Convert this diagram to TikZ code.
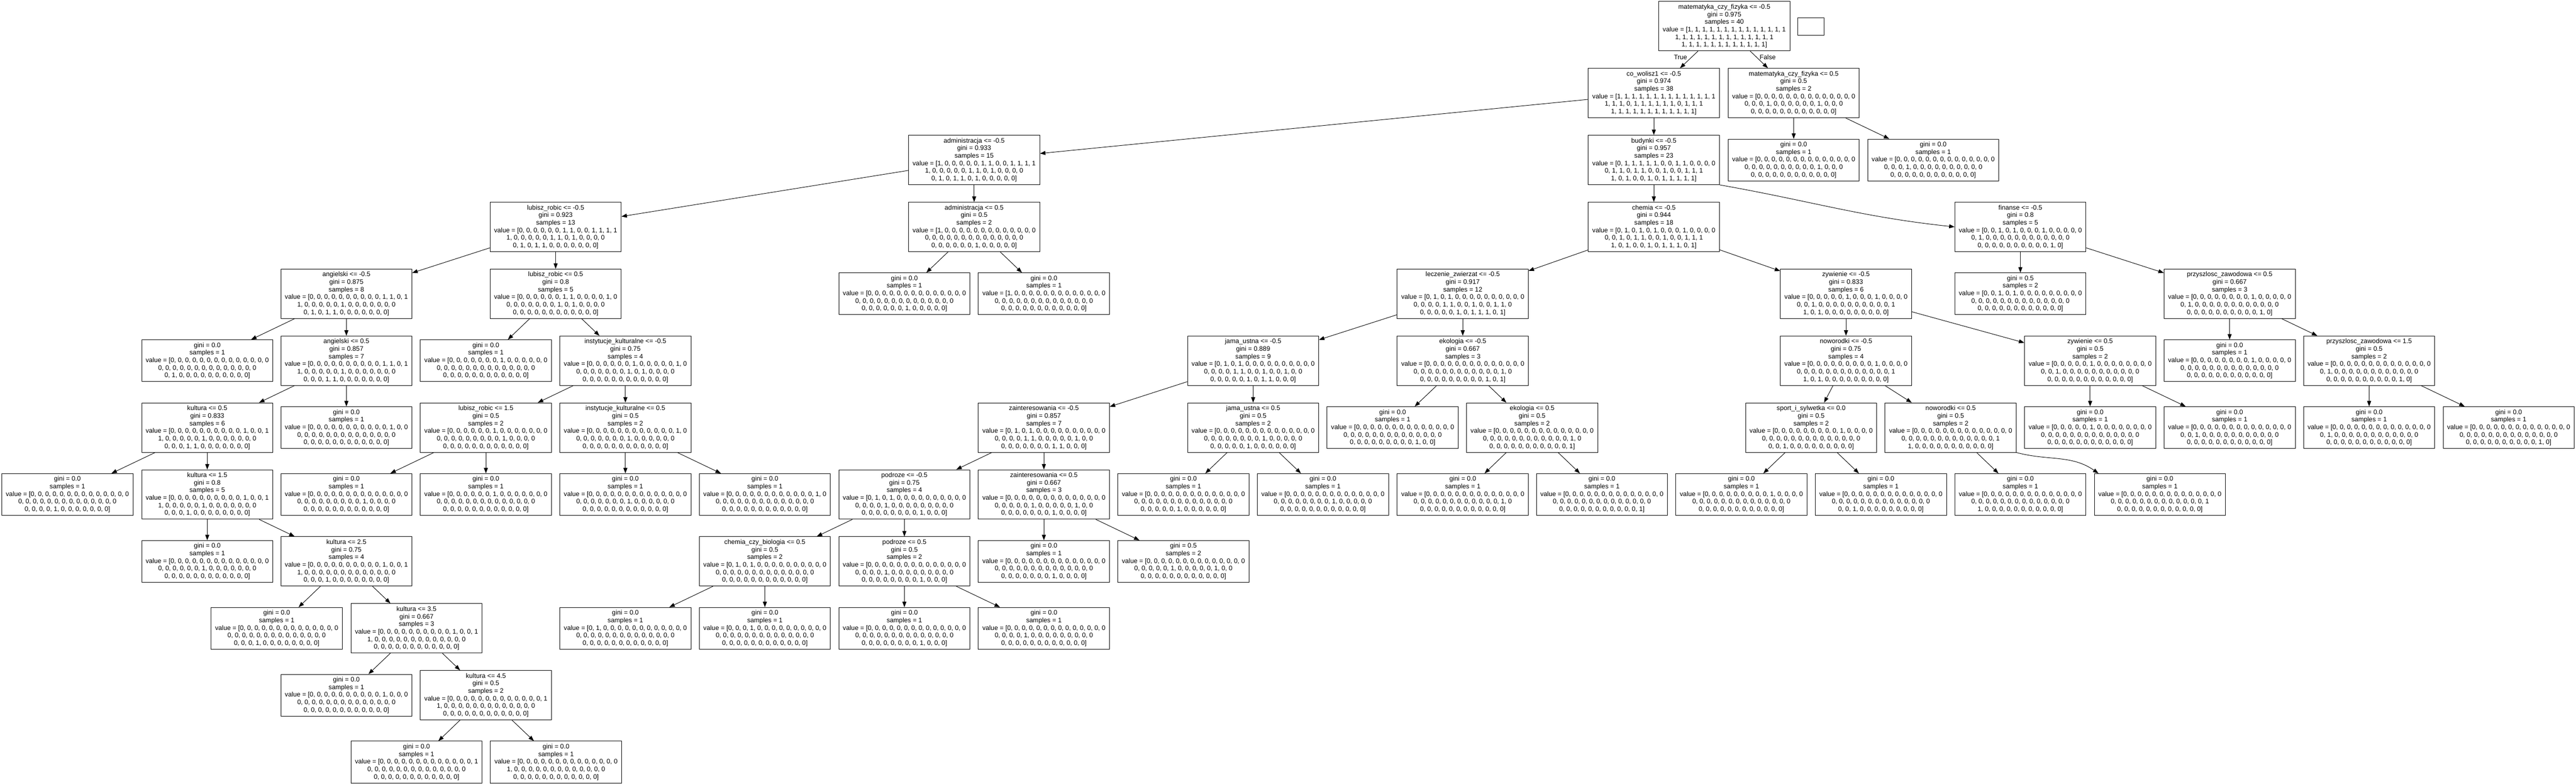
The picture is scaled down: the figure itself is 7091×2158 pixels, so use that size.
\documentclass[tikz,border=0pt]{standalone}
\usepackage{fontspec}
\setmainfont{Liberation Sans}
\usetikzlibrary{arrows.meta}
\newcount\vvcnt
\def\setvals#1{%
  \vvcnt=0
  \loop\expandafter\gdef\csname vv\the\vvcnt\endcsname{0}\advance\vvcnt by 1\relax\ifnum\vvcnt<40 \repeat
  \foreach \k in {#1}{\expandafter\gdef\csname vv\k\endcsname{1}}%
}
\def\vseg#1#2{\vvcnt=#1\relax\loop\csname vv\the\vvcnt\endcsname\advance\vvcnt by 1\relax\ifnum\vvcnt<#2\relax, \repeat}
\def\vals#1{\setvals{#1}value = [\vseg{0}{14}\\\vseg{14}{28}\\\vseg{28}{40}]}
\newcommand{\tleaf}[1]{gini = 0.0\\samples = 1\\\vals{#1}}
\newcommand{\tsplit}[4]{#1\\gini = #2\\samples = #3\\\vals{#4}}
\tikzset{
  tbox/.style={draw, line width=1.3pt, align=center, minimum width=361pt, inner sep=0pt,
    font=\fontsize{18pt}{20.8pt}\selectfont},
  inode/.style={tbox, minimum height=136pt},
  lnode/.style={tbox, minimum height=115pt},
  arr/.style={-{Triangle[length=15pt,width=11pt]}, line width=1.3pt},
  lbl/.style={font=\fontsize{18pt}{20.8pt}\selectfont, inner sep=0pt}
}
\begin{document}
\begin{tikzpicture}[x=1pt,y=-1pt]
\fill[white] (0,0) rectangle (7091,2158);
\useasboundingbox (0,0) rectangle (7091,2158);
% row 0
\node[inode] (root) at (4746.5,72) {\tsplit{matematyka\_czy\_fizyka <= -0.5}{0.975}{40}{0,...,39}};
\node[draw, line width=1.3pt, minimum width=72pt, minimum height=48pt, inner sep=0pt] (blank) at (4985,73) {};
% row 1
\node[inode] (co) at (4552.5,256.2) {\tsplit{co\_wolisz1 <= -0.5}{0.974}{38}{0,1,2,3,4,5,6,7,8,9,10,11,12,13,14,15,16,18,19,20,21,22,23,25,26,27,28,29,30,31,32,33,34,35,36,37,38,39}};
\node[inode] (mat05) at (4937.5,256.2) {\tsplit{matematyka\_czy\_fizyka <= 0.5}{0.5}{2}{17,24}};
% row 2
\node[inode] (admin) at (2681.5,440.4) {\tsplit{administracja <= -0.5}{0.933}{15}{0,6,7,10,11,12,13,14,20,21,23,29,31,32,34}};
\node[inode] (budynki) at (4552.5,440.4) {\tsplit{budynki <= -0.5}{0.957}{23}{1,2,3,4,5,8,9,15,16,18,19,22,25,26,27,28,30,33,35,36,37,38,39}};
\node[lnode] (leaf24) at (4937.5,440.4) {\tleaf{24}};
\node[lnode] (leaf17) at (5321.5,440.4) {\tleaf{17}};
% row 3
\node[inode] (lubisz) at (1529.5,624.6) {\tsplit{lubisz\_robic <= -0.5}{0.923}{13}{6,7,10,11,12,13,14,20,21,23,29,31,32}};
\node[inode] (admin05) at (2681.5,624.6) {\tsplit{administracja <= 0.5}{0.5}{2}{0,34}};
\node[inode] (chemia) at (4552.5,624.6) {\tsplit{chemia <= -0.5}{0.944}{18}{1,3,5,9,16,18,19,22,25,26,27,28,30,33,35,36,37,39}};
\node[inode] (finanse) at (5561.5,624.6) {\tsplit{finanse <= -0.5}{0.8}{5}{2,4,8,15,38}};
% row 4
\node[inode] (angA) at (953.5,808.8) {\tsplit{angielski <= -0.5}{0.875}{8}{10,11,13,14,20,29,31,32}};
\node[inode] (lub05) at (1529.5,808.8) {\tsplit{lubisz\_robic <= 0.5}{0.8}{5}{6,7,12,21,23}};
\node[lnode] (leaf34) at (2489.5,808.8) {\tleaf{34}};
\node[lnode] (leaf0) at (2873.5,808.8) {\tleaf{0}};
\node[inode] (leczenie) at (4026.5,808.8) {\tsplit{leczenie\_zwierzat <= -0.5}{0.917}{12}{1,3,18,19,22,25,26,33,35,36,37,39}};
\node[inode] (zyw) at (5081.5,808.8) {\tsplit{zywienie <= -0.5}{0.833}{6}{5,9,16,27,28,30}};
\node[lnode] (leafB) at (5561.5,808.8) {gini = 0.5\\samples = 2\\\vals{2,4}};
\node[inode] (przy05) at (6137.5,808.8) {\tsplit{przyszlosc\_zawodowa <= 0.5}{0.667}{3}{8,15,38}};
% row 5
\node[lnode] (leaf29) at (570.5,993) {\tleaf{29}};
\node[inode] (angB) at (953.5,993) {\tsplit{angielski <= 0.5}{0.857}{7}{10,11,13,14,20,31,32}};
\node[lnode] (leaf7) at (1337.5,993) {\tleaf{7}};
\node[inode] (inst) at (1721.5,993) {\tsplit{instytucje\_kulturalne <= -0.5}{0.75}{4}{6,12,21,23}};
\node[inode] (jamaA) at (3449.5,993) {\tsplit{jama\_ustna <= -0.5}{0.889}{9}{1,3,18,19,22,25,33,35,36}};
\node[inode] (ekoA) at (4026.5,993) {\tsplit{ekologia <= -0.5}{0.667}{3}{26,37,39}};
\node[inode] (now) at (5081.5,993) {\tsplit{noworodki <= -0.5}{0.75}{4}{9,27,28,30}};
\node[inode] (zyw05) at (5753.5,993) {\tsplit{zywienie <= 0.5}{0.5}{2}{5,16}};
\node[lnode] (leaf8) at (6137.5,993) {\tleaf{8}};
\node[inode] (przy15) at (6521.5,993) {\tsplit{przyszlosc\_zawodowa <= 1.5}{0.5}{2}{15,38}};
% row 6
\node[inode] (kul05) at (570.5,1177.2) {\tsplit{kultura <= 0.5}{0.833}{6}{10,13,14,20,31,32}};
\node[lnode] (leaf11) at (953.5,1177.2) {\tleaf{11}};
\node[inode] (lub15) at (1337.5,1177.2) {\tsplit{lubisz\_robic <= 1.5}{0.5}{2}{6,23}};
\node[inode] (inst05) at (1721.5,1177.2) {\tsplit{instytucje\_kulturalne <= 0.5}{0.5}{2}{12,21}};
\node[inode] (zainA) at (2873.5,1177.2) {\tsplit{zainteresowania <= -0.5}{0.857}{7}{1,3,18,19,25,35,36}};
\node[inode] (jamaB) at (3449.5,1177.2) {\tsplit{jama\_ustna <= 0.5}{0.5}{2}{22,33}};
\node[lnode] (leaf37) at (3833.5,1177.2) {\tleaf{37}};
\node[inode] (ekoB) at (4217.5,1177.2) {\tsplit{ekologia <= 0.5}{0.5}{2}{26,39}};
\node[inode] (sport) at (4985.5,1177.2) {\tsplit{sport\_i\_sylwetka <= 0.0}{0.5}{2}{9,30}};
\node[inode] (now05) at (5369.5,1177.2) {\tsplit{noworodki <= 0.5}{0.5}{2}{27,28}};
\node[lnode] (leaf5) at (5753.5,1177.2) {\tleaf{5}};
\node[lnode] (leaf16) at (6137.5,1177.2) {\tleaf{16}};
\node[lnode] (leaf15) at (6521.5,1177.2) {\tleaf{15}};
\node[lnode] (leaf38) at (6905.5,1177.2) {\tleaf{38}};
% row 7
\node[lnode] (leaf32) at (185.5,1361.4) {\tleaf{32}};
\node[inode] (kul15) at (570.5,1361.4) {\tsplit{kultura <= 1.5}{0.8}{5}{10,13,14,20,31}};
\node[lnode] (leaf23) at (953.5,1361.4) {\tleaf{23}};
\node[lnode] (leaf6) at (1337.5,1361.4) {\tleaf{6}};
\node[lnode] (leaf21) at (1721.5,1361.4) {\tleaf{21}};
\node[lnode] (leaf12) at (2105.5,1361.4) {\tleaf{12}};
\node[inode] (podA) at (2489.5,1361.4) {\tsplit{podroze <= -0.5}{0.75}{4}{1,3,18,36}};
\node[inode] (zainB) at (2873.5,1361.4) {\tsplit{zainteresowania <= 0.5}{0.667}{3}{19,25,35}};
\node[lnode] (leaf33) at (3257.5,1361.4) {\tleaf{33}};
\node[lnode] (leaf22) at (3641.5,1361.4) {\tleaf{22}};
\node[lnode] (leaf26) at (4026.5,1361.4) {\tleaf{26}};
\node[lnode] (leaf39) at (4409.5,1361.4) {\tleaf{39}};
\node[lnode] (leaf9) at (4793.5,1361.4) {\tleaf{9}};
\node[lnode] (leaf30) at (5177.5,1361.4) {\tleaf{30}};
\node[lnode] (leaf28) at (5561.5,1361.4) {\tleaf{28}};
\node[lnode] (leaf27) at (5945.5,1361.4) {\tleaf{27}};
% row 8
\node[lnode] (leaf20) at (570.5,1545.6) {\tleaf{20}};
\node[inode] (kul25) at (953.5,1545.6) {\tsplit{kultura <= 2.5}{0.75}{4}{10,13,14,31}};
\node[inode] (ccb) at (2105.5,1545.6) {\tsplit{chemia\_czy\_biologia <= 0.5}{0.5}{2}{1,3}};
\node[inode] (podB) at (2489.5,1545.6) {\tsplit{podroze <= 0.5}{0.5}{2}{18,36}};
\node[lnode] (leaf35) at (2873.5,1545.6) {\tleaf{35}};
\node[lnode] (leafC) at (3257.5,1545.6) {gini = 0.5\\samples = 2\\\vals{19,25}};
% row 9
\node[lnode] (leaf31) at (761.5,1729.8) {\tleaf{31}};
\node[inode] (kul35) at (1146.5,1729.8) {\tsplit{kultura <= 3.5}{0.667}{3}{10,13,14}};
\node[lnode] (leaf1) at (1721.5,1729.8) {\tleaf{1}};
\node[lnode] (leaf3) at (2105.5,1729.8) {\tleaf{3}};
\node[lnode] (leaf36) at (2489.5,1729.8) {\tleaf{36}};
\node[lnode] (leaf18) at (2873.5,1729.8) {\tleaf{18}};
% row 10
\node[lnode] (leaf10) at (953.5,1914) {\tleaf{10}};
\node[inode] (kul45) at (1337.5,1914) {\tsplit{kultura <= 4.5}{0.5}{2}{13,14}};
% row 11
\node[lnode] (leaf13) at (1146.5,2098.2) {\tleaf{13}};
\node[lnode] (leaf14) at (1530.5,2098.2) {\tleaf{14}};
% labels
\node[lbl] (tlab) at (4626,157) {True};
\node[lbl] (flab) at (4866,157) {False};
% edges
\draw[arr] (root) -- (co);
\draw[arr] (root) -- (mat05);
\draw[arr] (co) -- (admin);
\draw[arr] (co) -- (budynki);
\draw[arr] (mat05) -- (leaf24);
\draw[arr] (mat05) -- (leaf17);
\draw[arr] (admin) -- (lubisz);
\draw[arr] (admin) -- (admin05);
\draw[arr] (budynki) -- (chemia);
\draw[arr] (budynki.south east) to[out=-10,in=174] (finanse.west);
\draw[arr] (lubisz) -- (angA);
\draw[arr] (lubisz) -- (lub05);
\draw[arr] (admin05) -- (leaf34);
\draw[arr] (admin05) -- (leaf0);
\draw[arr] (chemia) -- (leczenie);
\draw[arr] (chemia) -- (zyw);
\draw[arr] (finanse) -- (leafB);
\draw[arr] (finanse) -- (przy05);
\draw[arr] (angA) -- (leaf29);
\draw[arr] (angA) -- (angB);
\draw[arr] (lub05) -- (leaf7);
\draw[arr] (lub05) -- (inst);
\draw[arr] (leczenie) -- (jamaA);
\draw[arr] (leczenie) -- (ekoA);
\draw[arr] (zyw) -- (now);
\draw[arr] (zyw) -- (zyw05);
\draw[arr] (przy05) -- (leaf8);
\draw[arr] (przy05) -- (przy15);
\draw[arr] (angB) -- (kul05);
\draw[arr] (angB) -- (leaf11);
\draw[arr] (inst) -- (lub15);
\draw[arr] (inst) -- (inst05);
\draw[arr] (jamaA) -- (zainA);
\draw[arr] (jamaA) -- (jamaB);
\draw[arr] (ekoA) -- (leaf37);
\draw[arr] (ekoA) -- (ekoB);
\draw[arr] (now) -- (sport);
\draw[arr] (now) -- (now05);
\draw[arr] (zyw05) -- (leaf5);
\draw[arr] (zyw05) -- (leaf16);
\draw[arr] (przy15) -- (leaf15);
\draw[arr] (przy15) -- (leaf38);
\draw[arr] (kul05) -- (leaf32);
\draw[arr] (kul05) -- (kul15);
\draw[arr] (lub15) -- (leaf23);
\draw[arr] (lub15) -- (leaf6);
\draw[arr] (inst05) -- (leaf21);
\draw[arr] (inst05) -- (leaf12);
\draw[arr] (zainA) -- (podA);
\draw[arr] (zainA) -- (zainB);
\draw[arr] (jamaB) -- (leaf33);
\draw[arr] (jamaB) -- (leaf22);
\draw[arr] (ekoB) -- (leaf26);
\draw[arr] (ekoB) -- (leaf39);
\draw[arr] (sport) -- (leaf9);
\draw[arr] (sport) -- (leaf30);
\draw[arr] (now05) -- (leaf28);
\draw[arr] (now05.south east) to[out=-15,in=145] ([xshift=12pt]leaf27.north west);
\draw[arr] (kul15) -- (leaf20);
\draw[arr] (kul15) -- (kul25);
\draw[arr] (podA) -- (ccb);
\draw[arr] (podA) -- (podB);
\draw[arr] (zainB) -- (leaf35);
\draw[arr] (zainB) -- (leafC);
\draw[arr] (kul25) -- (leaf31);
\draw[arr] (kul25) -- (kul35);
\draw[arr] (ccb) -- (leaf1);
\draw[arr] (ccb) -- (leaf3);
\draw[arr] (podB) -- (leaf36);
\draw[arr] (podB) -- (leaf18);
\draw[arr] (kul35) -- (leaf10);
\draw[arr] (kul35) -- (kul45);
\draw[arr] (kul45) -- (leaf13);
\draw[arr] (kul45) -- (leaf14);
\end{tikzpicture}
\end{document}
